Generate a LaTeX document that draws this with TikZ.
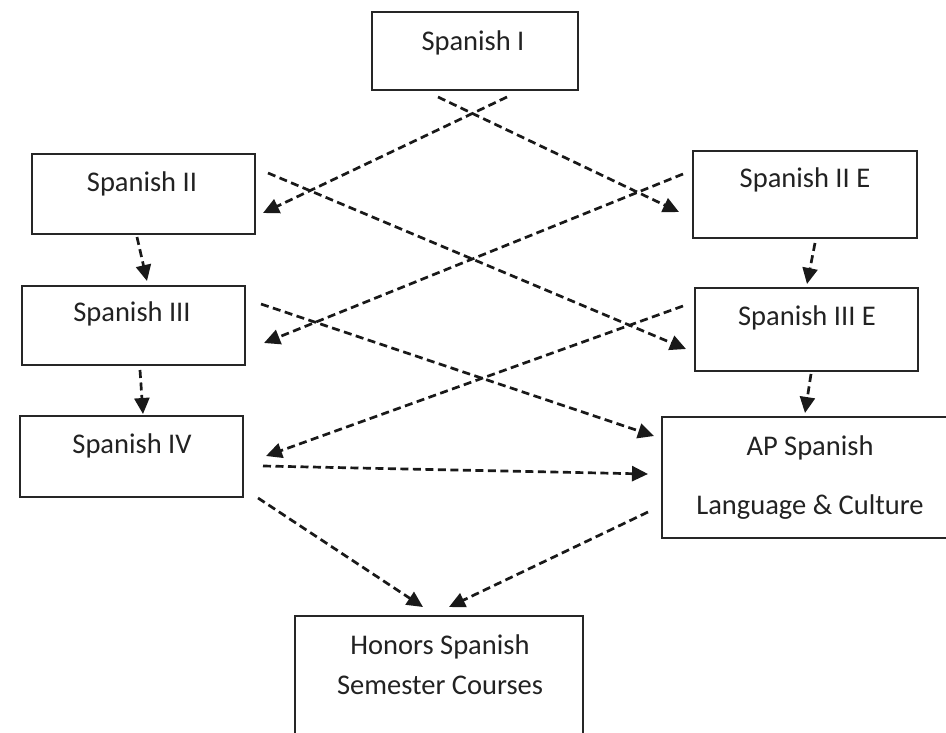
\documentclass[tikz,border=0pt]{standalone}
\usepackage{fontspec}
\setmainfont{Carlito}
\usetikzlibrary{arrows.meta}
\definecolor{ink}{HTML}{222222}
\tikzset{
  box/.style={draw=black!85, line width=2.8pt, fill=white, inner sep=0pt},
  lbl/.style={text=ink, font=\fontsize{28.5}{34}\selectfont, inner sep=0pt, anchor=center},
  conn/.style={draw=black!90, line width=2.7pt, dash pattern=on 8pt off 4.5pt,
    -{Triangle[length=16pt,width=15pt]}, shorten >=0pt}
}
\begin{document}
\begin{tikzpicture}[x=1pt,y=-1pt]
\useasboundingbox[fill=white] (0,0) rectangle (946,732);
% boxes
\node[box, minimum width=206pt, minimum height=78pt] (s1) at (475,51) {};
\node[box, minimum width=223pt, minimum height=80pt] (s2) at (143.5,194) {};
\node[box, minimum width=223pt, minimum height=79pt] (s3) at (133.5,325.5) {};
\node[box, minimum width=223pt, minimum height=81pt] (s4) at (131.5,456.5) {};
\node[box, minimum width=224pt, minimum height=87pt] (s2e) at (805,194.5) {};
\node[box, minimum width=223pt, minimum height=83pt] (s3e) at (806.5,329.5) {};
\node[box, minimum width=298pt, minimum height=121pt] (ap) at (811,477.5) {};
\node[box, minimum width=288pt, minimum height=144pt] (hon) at (439,688) {};
% labels
\node[lbl] (t1) at (473,43) {Spanish I};
\node[lbl] (t2) at (142,184) {Spanish II};
\node[lbl] (t3) at (132,314) {Spanish III};
\node[lbl] (t4) at (132,446) {Spanish IV};
\node[lbl] (t2e) at (805,180) {Spanish II E};
\node[lbl] (t3e) at (807,318) {Spanish III E};
\node[lbl] (tap1) at (810,448) {AP Spanish};
\node[lbl] (tap2) at (810,507) {Language \& Culture};
\node[lbl] (th1) at (440,647) {Honors Spanish};
\node[lbl] (th2) at (440,685) {Semester Courses};
% connector end points
\coordinate (a1s) at (507,97);  \coordinate (a1e) at (263,213);
\coordinate (a2s) at (438,97);  \coordinate (a2e) at (679,212);
\coordinate (a3s) at (268,173); \coordinate (a3e) at (686,349);
\coordinate (a4s) at (683,174); \coordinate (a4e) at (264,343);
\coordinate (a5s) at (137,237); \coordinate (a5e) at (147,281);
\coordinate (a6s) at (815,243); \coordinate (a6e) at (807,284);
\coordinate (a7s) at (261,304); \coordinate (a7e) at (654,436);
\coordinate (a8s) at (683,306); \coordinate (a8e) at (266,456);
\coordinate (a9s) at (140,370); \coordinate (a9e) at (143,414);
\coordinate (a10s) at (811,374); \coordinate (a10e) at (805,413);
\coordinate (a11s) at (263,466); \coordinate (a11e) at (648,474);
\coordinate (a12s) at (258,498); \coordinate (a12e) at (423,607);
\coordinate (a13s) at (648,512); \coordinate (a13e) at (449,607);
% connectors
\draw[conn] (a1s) -- (a1e);
\draw[conn] (a2s) -- (a2e);
\draw[conn] (a3s) -- (a3e);
\draw[conn] (a4s) -- (a4e);
\draw[conn] (a5s) -- (a5e);
\draw[conn] (a6s) -- (a6e);
\draw[conn] (a7s) -- (a7e);
\draw[conn] (a8s) -- (a8e);
\draw[conn] (a9s) -- (a9e);
\draw[conn] (a10s) -- (a10e);
\draw[conn] (a11s) -- (a11e);
\draw[conn] (a12s) -- (a12e);
\draw[conn] (a13s) -- (a13e);
\end{tikzpicture}
\end{document}
